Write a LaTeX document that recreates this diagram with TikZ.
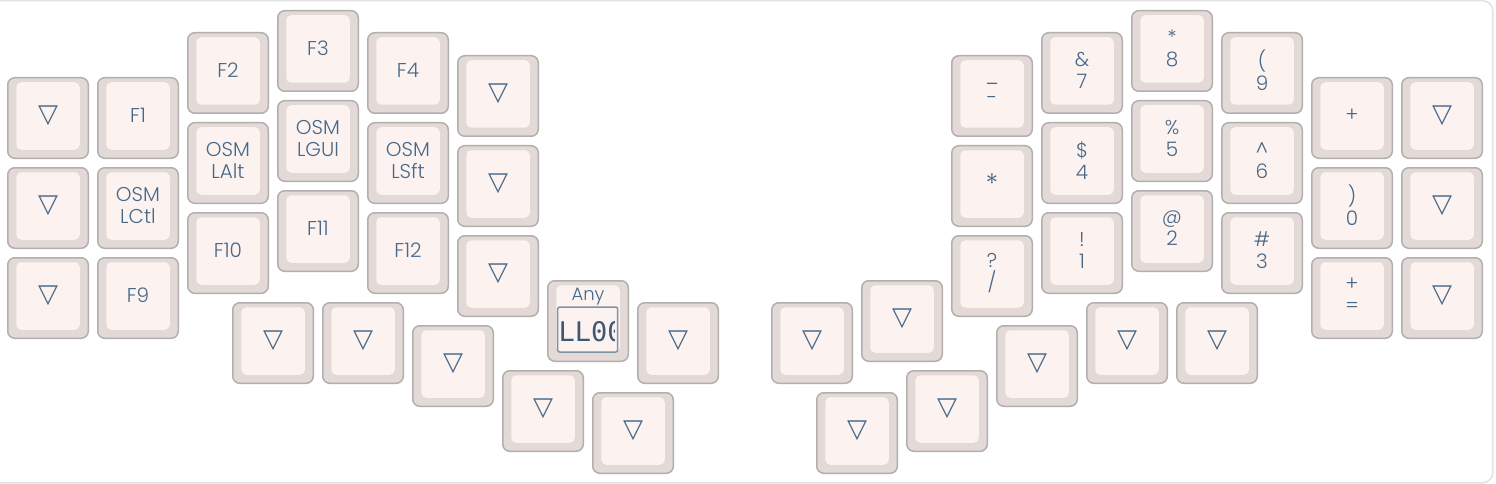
\documentclass[tikz,border=0pt]{standalone}
\usepackage{fontspec}
\setmainfont{Poppins}[UprightFont={* Light}]
\newfontfamily\symfont{DejaVu Sans}
\newfontfamily\kmono{DejaVu Sans Mono}
\definecolor{keyfill}{RGB}{227,218,216}
\definecolor{keystroke}{RGB}{178,175,175}
\definecolor{keyinner}{RGB}{252,243,241}
\definecolor{txt}{RGB}{72,104,136}
\definecolor{txtdark}{RGB}{62,88,114}
\definecolor{boxstroke}{RGB}{128,146,162}
\definecolor{framecol}{RGB}{226,226,226}
\tikzset{
  keyout/.style={draw=keystroke, fill=keyfill, line width=1.5pt, rounded corners=7pt,
    minimum width=80.5pt, minimum height=80.5pt, inner sep=0pt, outer sep=0pt},
  keyin/.style={fill=keyinner, rounded corners=5pt},
  lbl/.style={text=txt, font=\fontsize{20}{22}\selectfont, align=center, inner sep=0pt},
  anybox/.style={draw=boxstroke, fill=keyinner, line width=1.5pt, rounded corners=2pt,
    minimum width=60pt, minimum height=45pt, inner sep=0pt, outer sep=0pt},
}
\newcommand\tri{{\symfont\fontsize{26}{26}\selectfont ▽}}
\newcommand\kk[4]{%
  \node[keyout] (#1) at (#2,#3) {};
  \fill[keyin] ([xshift=8.5pt,yshift=-4.5pt]#1.north west) rectangle ([xshift=-8.5pt,yshift=8.5pt]#1.south east);
  \node[lbl] (#1-t) at ([yshift=2.5pt]#1.center) {#4};
}
\begin{document}
\begin{tikzpicture}[x=1pt,y=-1pt]
\useasboundingbox (0,0) rectangle (1496,484);
\fill[white] (0,0) rectangle (1496,484);
\draw[framecol, line width=1.5pt, rounded corners=10pt] (-20,0.75) rectangle (1492.75,482.75);
% left half
\kk{l00}{48}{118}{\tri}
\kk{l01}{48}{208}{\tri}
\kk{l02}{48}{298}{\tri}
\kk{l10}{138}{118}{F1}
\kk{l11}{138}{208}{OSM\\LCtl}
\kk{l12}{138}{298}{F9}
\kk{l20}{228}{73}{F2}
\kk{l21}{228}{163}{OSM\\LAlt}
\kk{l22}{228}{253}{F10}
\kk{l30}{318}{51}{F3}
\kk{l31}{318}{141}{OSM\\LGUI}
\kk{l32}{318}{231}{F11}
\kk{l40}{408}{73}{F4}
\kk{l41}{408}{163}{OSM\\LSft}
\kk{l42}{408}{253}{F12}
\kk{l50}{498}{96}{\tri}
\kk{l51}{498}{186}{\tri}
\kk{l52}{498}{276}{\tri}
% left thumbs
\kk{lt1}{273}{343}{\tri}
\kk{lt2}{363}{343}{\tri}
\kk{lt3}{453}{366}{\tri}
\kk{lt4}{543}{411}{\tri}
\kk{lt5}{633}{433}{\tri}
\kk{lt7}{678}{343}{\tri}
% Any key
\node[keyout] (any) at (588,321) {};
\fill[keyin] ([xshift=8.5pt,yshift=-4.5pt]any.north west) rectangle ([xshift=-8.5pt,yshift=8.5pt]any.south east);
\node[text=txt, font=\fontsize{18}{18}\selectfont, inner sep=0pt, anchor=base] (any-t) at (588,300) {Any};
\node[anybox] (anyb) at (587.7,329.5) {};
\begin{scope}
  \clip ([xshift=0.75pt,yshift=-0.75pt]anyb.north west) rectangle ([xshift=-3.5pt,yshift=0.75pt]anyb.south east);
  \node[text=txtdark, font=\kmono\fontsize{27}{27}\selectfont, inner sep=0pt, anchor=base west] (any-l) at (558.5,341.3) {LL00};
\end{scope}
% right half
\kk{r60}{992}{96}{\_\\-}
\kk{r61}{992}{186}{{\fontsize{27}{27}\selectfont *}}
\kk{r62}{992}{276}{?\\/}
\kk{r70}{1082}{73}{\&\\7}
\kk{r71}{1082}{163}{\$\\4}
\kk{r72}{1082}{253}{!\\1}
\kk{r80}{1172}{51}{*\\8}
\kk{r81}{1172}{141}{\%\\5}
\kk{r82}{1172}{231}{@\\2}
\kk{r90}{1262}{73}{(\\9}
\kk{r91}{1262}{163}{\textasciicircum\\6}
\kk{r92}{1262}{253}{\#\\3}
\kk{ra0}{1352}{118}{+}
\kk{ra1}{1352}{208}{)\\0}
\kk{ra2}{1352}{298}{+\\=}
\kk{rb0}{1442}{118}{\tri}
\kk{rb1}{1442}{208}{\tri}
\kk{rb2}{1442}{298}{\tri}
% right thumbs
\kk{rt1}{812}{343}{\tri}
\kk{rt2}{902}{321}{\tri}
\kk{rt3}{1037}{366}{\tri}
\kk{rt4}{947}{411}{\tri}
\kk{rt5}{857}{433}{\tri}
\kk{rt6}{1127}{343}{\tri}
\kk{rt7}{1217}{343}{\tri}
\end{tikzpicture}
\end{document}
